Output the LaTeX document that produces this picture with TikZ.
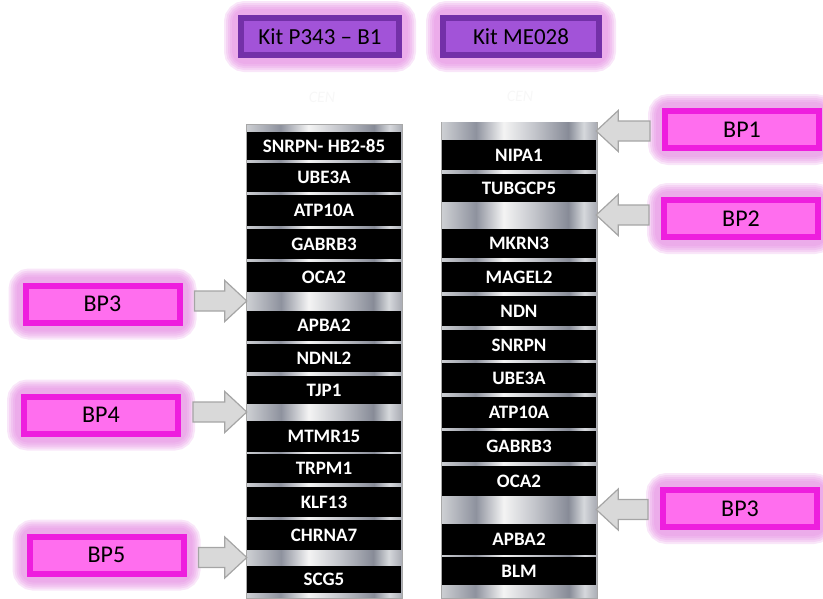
\documentclass[tikz,border=0pt]{standalone}
\usepackage{fontspec}
\setmainfont{Carlito}
\usetikzlibrary{calc, positioning, backgrounds}

\definecolor{kitfill}{HTML}{A253D8}
\definecolor{kitborder}{HTML}{7330A8}
\definecolor{glowcol}{HTML}{E384E0}
\definecolor{bpfill}{HTML}{FF6EEE}
\definecolor{bpborder}{HTML}{EE1EDE}
\definecolor{arrowfill}{HTML}{D9D9D9}
\definecolor{arrowdraw}{HTML}{A5A5A5}
\definecolor{colborder}{HTML}{A8A8A8}
\definecolor{metal0}{HTML}{CDCFD3}
\definecolor{metal1}{HTML}{8E929E}
\definecolor{metal2}{HTML}{F4F4F4}
\definecolor{metal3}{HTML}{C3C5CB}
\definecolor{metal4}{HTML}{878B97}
\definecolor{metal5}{HTML}{D6D8DC}
\definecolor{metal6}{HTML}{ABAEB6}

% brushed metal look of the chromosome bands
\pgfdeclarehorizontalshading{metal}{100bp}{
    color(0bp)=(metal0); color(25bp)=(metal0);
    color(36bp)=(metal1); color(45bp)=(metal2);
    color(55bp)=(metal3); color(66bp)=(metal4);
    color(71bp)=(metal5); color(75bp)=(metal6); color(100bp)=(metal6)}

% block arrow from a breakpoint box (#1) to a band (#2)
\newcommand{\bparrow}[2]{%
    \draw[bparrowline] let \p1=(#1), \p2=(#2), \n1={(\x1-\x2)/abs(\x1-\x2)} in
        (\x1-\n1*12pt,\y2-10pt) -- (\x2+\n1*22pt,\y2-10pt) -- (\x2+\n1*22pt,\y2-20.5pt)
        -- (\x2,\y2) -- (\x2+\n1*22pt,\y2+20.5pt) -- (\x2+\n1*22pt,\y2+10pt)
        -- (\x1-\n1*12pt,\y2+10pt) -- cycle;}

% soft halo round a box
\newcommand{\halo}[1]{%
    \foreach \w in {28, 24, 20, 16, 12} {
        \draw[glowcol, opacity=0.2, line width=\w pt, rounded corners=7pt]
            (#1.south west) rectangle (#1.north east);
    };}

\begin{document}
\begin{tikzpicture}[x=1pt, y=-1pt,
    column/.style={shading=metal, draw=colborder, line width=1pt},
    geneblock/.style={rectangle, fill=black, text=white, inner sep=0pt,
        minimum width=154pt, font=\fontsize{19}{21}\selectfont\bfseries},
    gapband/.style={rectangle, shading=metal, inner sep=0pt, minimum width=154pt},
    kitbox/.style={rectangle, draw=kitborder, line width=6pt, fill=kitfill,
        minimum height=37pt, font=\fontsize{23}{26}\selectfont},
    bpbox/.style={rectangle, draw=bpborder, line width=6pt, fill=bpfill,
        minimum width=154pt, minimum height=37pt, font=\fontsize{24}{27}\selectfont},
    bparrowline/.style={fill=arrowfill, draw=arrowdraw, line width=1.2pt, line join=miter},
    cen/.style={text=black!3, font=\fontsize{16}{18}\selectfont\itshape}]
    \useasboundingbox (0,0) rectangle (823,598);

    % kit titles
    \node[kitbox, minimum width=158pt] (kitP) at (320,36.5) {Kit P343 -- B1};
    \node[kitbox, minimum width=156pt] (kitM) at (521,36.5) {Kit ME028};
    \node[cen] (cenP) at (322,97) {CEN};
    \node[cen] (cenM) at (520,96) {CEN};

    % left chromosome (P343)
    \draw[column] (246,124) rectangle (402,598);
    \foreach \gene/\ya/\yb [count=\i] in {SNRPN- HB2-85/132/160, UBE3A/163/192,
        ATP10A/195/226, GABRB3/229/259, OCA2/262/292, APBA2/310/341, NDNL2/344/372,
        TJP1/376/404, MTMR15/420/452, TRPM1/454/483, KLF13/487/517, CHRNA7/520/550,
        SCG5/565/593} {
        \node[geneblock, minimum height={\yb-\ya}] (L\i) at (324,{(\ya+\yb)/2}) {\gene};
    };
    \node[gapband, minimum height=18pt] (Lgap1) at (324,301) {};
    \node[gapband, minimum height=16pt] (Lgap2) at (324,412) {};
    \node[gapband, minimum height=15pt] (Lgap3) at (324,557.5) {};

    % right chromosome (ME028)
    \draw[column] (441,122) rectangle (597,598);
    \foreach \gene/\ya/\yb [count=\i] in {NIPA1/140/170, TUBGCP5/174/202,
        MKRN3/228/258, MAGEL2/262/292, NDN/296/326, SNRPN/330/360, UBE3A/363/393,
        ATP10A/397/428, GABRB3/431/462, OCA2/466/496, APBA2/523/555, BLM/557/585} {
        \node[geneblock, minimum height={\yb-\ya}] (R\i) at (519,{(\ya+\yb)/2}) {\gene};
    };
    \node[gapband, minimum height=17pt] (Rgap0) at (519,131) {};
    \node[gapband, minimum height=26pt] (Rgap1) at (519,215) {};
    \node[gapband, minimum height=27pt] (Rgap2) at (519,509.5) {};

    % breakpoints
    \node[bpbox] (bp1) at (742,129.5) {BP1};
    \node[bpbox] (bp2) at (741,218.5) {BP2};
    \node[bpbox] (bp3r) at (740,508.5) {BP3};
    \node[bpbox] (bp3l) at (102.5,304) {BP3};
    \node[bpbox] (bp4) at (101,415) {BP4};
    \node[bpbox] (bp5) at (106.5,555) {BP5};

    \bparrow{bp1.west}{Rgap0.east}
    \bparrow{bp2.west}{Rgap1.east}
    \bparrow{bp3r.west}{Rgap2.east}
    \bparrow{bp3l.east}{Lgap1.west}
    \bparrow{bp4.east}{Lgap2.west}
    \bparrow{bp5.east}{Lgap3.west}

    \begin{pgfonlayer}{background}
        \foreach \n in {kitP, kitM, bp1, bp2, bp3r, bp3l, bp4, bp5} {
            \halo{\n}
        };
    \end{pgfonlayer}
\end{tikzpicture}
\end{document}
